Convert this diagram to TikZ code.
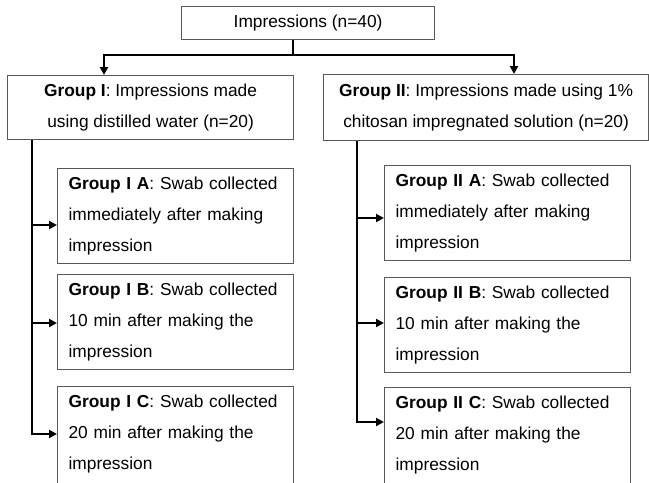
\documentclass[tikz,border=0pt]{standalone}
\usepackage{fontspec}
\setmainfont{Liberation Sans}
\usetikzlibrary{arrows.meta}

\begin{document}
\begin{tikzpicture}[x=0.75pt,y=-0.75pt]
\tikzstyle{box}=[draw=black!65,line width=0.9pt,inner sep=0pt,font=\fontsize{13}{23.25}\selectfont]
\tikzstyle{grpbox}=[box,anchor=north west,align=center]
\tikzstyle{swabbox}=[box,anchor=north west,align=left,inner xsep=8.25pt,inner ysep=6.4pt]
\tikzstyle{conn}=[line width=1.5pt]
\tikzstyle{arr}=[conn,-{Triangle[length=6pt,width=6pt]}]
\useasboundingbox (0,0) rectangle (649,482);
\clip (0,0) rectangle (649,482);
% top and the two groups
\node[grpbox,minimum width=189.75pt,minimum height=24.75pt] (imp) at (181,6) {Impressions (n=40)};
\node[grpbox,minimum width=214.5pt,minimum height=48pt] (g1) at (7,75)
  {\textbf{Group I}: Impressions made\\using distilled water (n=20)};
\node[grpbox,minimum width=243.75pt,minimum height=49.5pt] (g2) at (323,74)
  {\textbf{Group II}: Impressions made using 1\%\\chitosan impregnated solution (n=20)};
% swab boxes
\node[swabbox,text width=160.5pt,minimum height=71.25pt] (s1a) at (57,168)
  {\textbf{Group I A}: Swab collected\\immediately after making\\impression};
\node[swabbox,text width=160.5pt,minimum height=69pt] (s1b) at (57,274)
  {\textbf{Group I B}: Swab collected\\10 min after making the\\impression};
\node[swabbox,text width=160.5pt,text depth=90pt] (s1c) at (57,386)
  {\textbf{Group I C}: Swab collected\\20 min after making the\\impression};
\node[swabbox,text width=168pt,minimum height=71.25pt] (s2a) at (384,165)
  {\textbf{Group II A}: Swab collected\\immediately after making\\impression};
\node[swabbox,text width=168pt,minimum height=69pt] (s2b) at (384,277)
  {\textbf{Group II B}: Swab collected\\10 min after making the\\impression};
\node[swabbox,text width=168pt,text depth=90pt] (s2c) at (384,387)
  {\textbf{Group II C}: Swab collected\\20 min after making the\\impression};
% connectors
\coordinate (split) at (293,55);
\coordinate (left) at (104,55);
\coordinate (right) at (514,55);
\coordinate (t1a) at (32,225);
\coordinate (t1b) at (32,323);
\coordinate (t1c) at (32,434);
\coordinate (t2a) at (357,218);
\coordinate (t2b) at (357,323);
\coordinate (t2c) at (357,422);
\draw[conn] (split |- imp.south) -- (split);
\draw[arr] (split) -- (left) -- (left |- g1.north);
\draw[arr] (split) -- (right) -- (right |- g2.north);
\foreach \g in {1,2} {
  \draw[arr] (t\g c |- g\g.south) -- (t\g c) -- (t\g c -| s\g c.west);
  \foreach \s in {a,b}
    \draw[arr] (t\g\s) -- (t\g\s -| s\g\s.west);
}
\end{tikzpicture}
\end{document}
